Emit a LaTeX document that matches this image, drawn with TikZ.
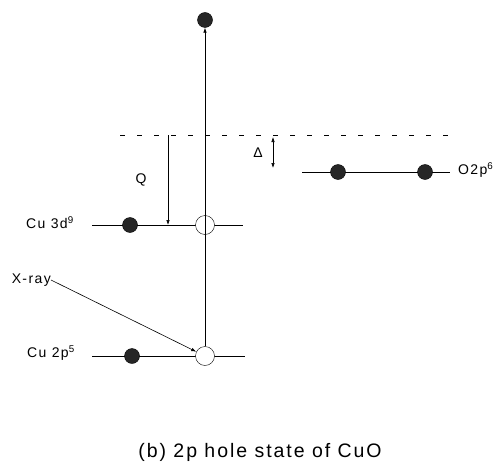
\documentclass[tikz,border=0pt]{standalone}
\usepackage{fontspec}
\setmainfont{Liberation Sans}[LetterSpace=10]
\usetikzlibrary{arrows.meta}

\tikzset{
  electron/.style={circle, fill=black!85, draw=black, minimum size=15pt, inner sep=0pt},
  hole/.style={circle, fill=white, draw=black, minimum size=19pt, inner sep=0pt},
  level/.style={line width=0.6pt},
  lbl/.style={font=\fontsize{14}{16}\selectfont, inner sep=0pt},
  tip/.style={-{Latex[length=5pt,width=3.5pt]}, line width=0.6pt},
  twotip/.style={{Latex[length=5pt,width=3.5pt]}-{Latex[length=5pt,width=3.5pt]}, line width=0.6pt},
}

\begin{document}
\begin{tikzpicture}[x=1pt,y=-1pt]
  \useasboundingbox (0,0) rectangle (497,468);

  % Vacuum level
  \draw[dash pattern=on 5pt off 12pt, line width=0.6pt] (120,135) -- (457,135);

  % Levels: Cu 3d, Cu 2p, O 2p
  \draw[level] (92,225) -- (243,225);
  \draw[level] (92,356) -- (245,356);
  \draw[level] (302,172) -- (450,172);

  \node[electron] (top) at (205,20) {};
  \node[electron] (e3d) at (130,225) {};
  \node[hole] (h3d) at (205,225) {};
  \node[electron] (e2p) at (132,356) {};
  \node[hole] (h2p) at (205,356) {};
  \foreach \xv/\nm in {338/o1, 425/o2}{
    \node[electron] (\nm) at (\xv,172) {};
  }

  \node[lbl, anchor=west] (l3d) at (26,223) {Cu 3d\textsuperscript{9}};
  \node[lbl, anchor=west] (l2p) at (27,353) {Cu 2p\textsuperscript{5}};
  \node[lbl, anchor=west] (lO) at (458,170) {O2p\textsuperscript{6}};
  \node[lbl, anchor=east] (xray) at (51,280) {X-ray};
  \node[lbl] (lq) at (141,180) {Q};
  \node[lbl] (ld) at (258,153) {Δ};

  % Excitation and energy gaps
  \draw[tip] (h2p) -- (top);
  \draw[tip] (xray.east) -- (h2p);

  \coordinate (qtop) at (168,135);
  \coordinate (qbot) at (168,225);
  \draw[tip] (qtop) -- (qbot);

  \coordinate (dtop) at (273,137);
  \coordinate (dbot) at (273,168);
  \draw[twotip] (dtop) -- (dbot);

  \node[font=\fontsize{19.5}{22}\selectfont, inner sep=0pt] (cap) at (260,452)
    {(b) 2p hole state of CuO};

\end{tikzpicture}
\end{document}
